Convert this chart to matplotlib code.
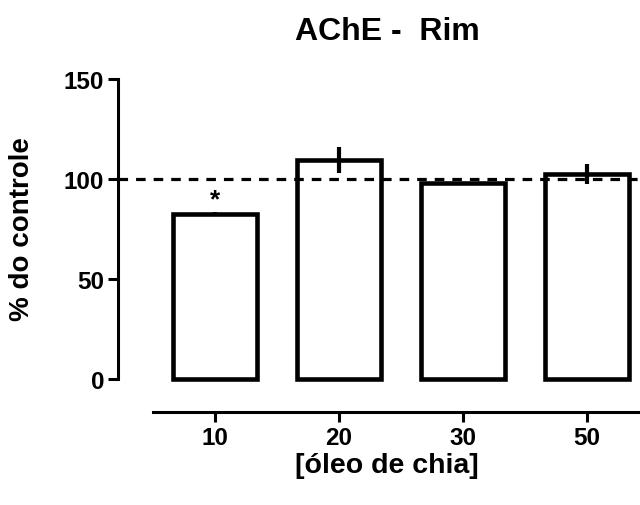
import matplotlib
matplotlib.use('Agg')
import matplotlib.pyplot as plt

# data
categories = ['10', '20', '30', '50']
values = [82.5, 109.5, 98, 102.5]
errors = [1, 6.5, 0, 5]
signif = ['*', '', '', '']

plt.rcParams['font.family'] = ['Liberation Sans', 'DejaVu Sans']
plt.rcParams['font.weight'] = 'bold'

W, H = 640, 506
fig = plt.figure(figsize=(W / 100, H / 100), dpi=100)
ax = fig.add_axes([118 / W, (H - 380) / H, (W - 118) / W, 300 / H])

x = list(range(len(categories)))
ax.bar(x, values, width=0.68, facecolor='white', edgecolor='black',
       linewidth=3.3, clip_on=False, zorder=3)
ax.errorbar(x, values, yerr=errors, fmt='none', ecolor='black',
            elinewidth=3, capsize=0, zorder=4)
for xi, v, e, s in zip(x, values, errors, signif):
    if s:
        ax.text(xi, v + e + 6.5, s, ha='center', va='center',
                fontsize=19, fontweight='bold')

ax.axhline(100, color='black', linestyle=(0, (3, 2.5)), linewidth=2.3, zorder=5,
           clip_on=False)

ax.set_xlim(-97 / 124, (W - 215) / 124)
ax.set_ylim(0, 150)
ax.set_yticks([0, 50, 100, 150])
ax.set_xticks(x)
ax.set_xticklabels(categories)

for side in ['top', 'right']:
    ax.spines[side].set_visible(False)
ax.spines['left'].set_linewidth(2.2)
ax.spines['left'].set_bounds(0, 150)
ax.spines['bottom'].set_linewidth(2.2)
ax.spines['bottom'].set_position(('outward', 33 * 0.72))
ax.spines['bottom'].set_bounds(-0.5, (W - 215) / 124)
ax.tick_params(axis='both', direction='out', length=7, width=2.2,
               labelsize=17.5, pad=3)

fig.text(387 / W, 1 - 32 / H, 'AChE -  Rim', ha='center', va='center',
         fontsize=23, fontweight='bold')
fig.text(387 / W, 1 - 466 / H, '[óleo de chia]', ha='center', va='center',
         fontsize=20.5, fontweight='bold')
fig.text(22 / W, 1 - 229 / H, '% do controle', ha='center', va='center',
         rotation=90, fontsize=20, fontweight='bold')

fig.savefig('out.png', dpi=100)
